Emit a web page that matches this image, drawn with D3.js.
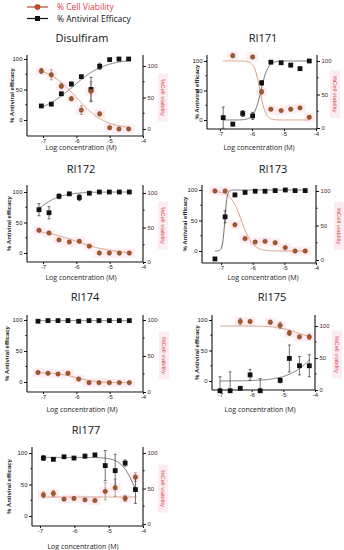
<!DOCTYPE html>
<html>
<head>
<meta charset="utf-8">
<script src="https://cdn.jsdelivr.net/npm/d3@7"></script>
<style>
  body { margin: 0; background: #fff; }
  svg { display: block; font-family: "Open Sans", "Liberation Sans", Arial, sans-serif; }
</style>
</head>
<body>
<svg width="344" height="550"></svg>
<script>
// ---- data ----
const compounds = ["Disulfiram", "RI171", "RI172", "RI173", "RI174", "RI175", "RI177"];

// log concentration (M) of each well, per compound
const logConc = [
  [-7.05, -6.75, -6.45, -6.15, -5.85, -5.56, -5.3, -5.0, -4.72, -4.43],
  [-6.9, -6.6, -6.29, -5.98, -5.7, -5.41, -5.09, -4.79, -4.5, -4.21],
  [-7.12, -6.82, -6.52, -6.21, -5.91, -5.61, -5.31, -5.01, -4.71, -4.41],
  [-7.19, -6.87, -6.56, -6.24, -5.92, -5.61, -5.29, -4.97, -4.66, -4.34],
  [-7.15, -6.85, -6.55, -6.25, -5.93, -5.62, -5.32, -5.01, -4.71, -4.41],
  [-7.0, -6.68, -6.36, -6.05, -5.73, -5.41, -5.1, -4.81, -4.49, -4.18],
  [-6.9, -6.61, -6.3, -6.01, -5.69, -5.4, -5.1, -4.81, -4.52, -4.22]
];

// % antiviral efficacy (mean, error)
const efficacy = [
  [23, 26, 43, 59, 71, 50, 88, 99, 100, 100],
  [4, -7, 11, 7, 63, 98, 97, 93, 87, 100],
  [71, 66, 93, 97, 91, 98, 100, 100, 100, 100],
  [-13, 56, 92, 96, 98, 98, 99, 100, 99, 99],
  [98, 99, 99, 99, 98, 99, 99, 99, 99, 99],
  [-16, -16, -12, 10, -16, null, 1, 37, 25, 25],
  [92, 90, 94, 92, 95, 97, 80, 72, 84, 42]
];
const efficacyErr = [
  [1, 1, 2, 3, 2, 20, 5, 1, 1, 1],
  [18, 3, 5, 6, 4, 2, 2, 3, 3, 1],
  [10, 10, 4, 2, 5, 1, 1, 1, 1, 1],
  [2, 10, 2, 1, 1, 1, 1, 1, 1, 1],
  [1, 1, 1, 1, 1, 1, 1, 1, 1, 1],
  [23, 31, 3, 9, 20, 0, 4, 22, 15, 18],
  [4, 2, 2, 2, 3, 2, 24, 26, 5, 22]
];

// % cell viability (mean, error)
const viability = [
  [92, 86, 68, 48, 30, 60, 24, 2, 0, 0],
  [null, 108, null, 106, 54, 28, 26, 28, 30, 16],
  [46, 42, 32, 29, 30, 23, 13, 13, 13, 13],
  [100, 100, 51, 31, 26, 27, 25, 18, 13, 13],
  [27, 26, 25, 26, 18, 13, 13, 13, 13, 13],
  [null, null, 107, 107, null, 106, 101, 89, 83, 83],
  [41, 43, 35, 36, 34, 33, 46, 51, 36, 66]
];
const viabilityErr = [
  [4, 8, 4, 3, 7, 15, 3, 1, 1, 1],
  [0, 3, 0, 2, 3, 1, 1, 1, 1, 1],
  [2, 1, 1, 1, 1, 1, 1, 1, 1, 1],
  [1, 1, 1, 1, 1, 1, 1, 1, 1, 1],
  [1, 1, 1, 1, 1, 1, 1, 1, 1, 1],
  [0, 0, 5, 2, 0, 3, 5, 4, 2, 4],
  [4, 4, 1, 1, 1, 1, 12, 12, 4, 6]
];

// fitted 4PL curves: [bottom, top, logEC50, hill, xFrom, xTo]
const efficacyFit = [
  [10, 100, -6.1, 0.9, -7.05, -4.43],
  [0, 100, -5.72, 4, -6.9, -4.21],
  [40, 100, -7.2, 1.2, -7.12, -4.41],
  [0, 100, -6.88, 12, -7.19, -4.34],
  [99, 99, -6, 1, -7.15, -4.41],
  [0, 100, -3.9, 1, -7.0, -4.18],
  [0, 93, -4.25, -2.2, -6.9, -4.18]
];
const viabilityFit = [
  [0, 100, -6.0, -1.0, -7.05, -4.43],
  [12, 100, -5.75, -5, -6.9, -4.21],
  [12, 48, -6.0, -0.8, -7.12, -4.41],
  [13, 100, -6.35, -2.5, -7.19, -4.34],
  [13, 27, -6.0, -1.5, -7.15, -4.41],
  [80, 100, -4.6, -1.5, -7.0, -4.18],
  [38, 38, -5, 1, -6.9, -4.18]
];

const xTicks = [-7, -6, -5, -4];
const yTicks = [0, 50, 100];
const yMinor = [25, 75];

// ---- panel placement (pixels) ----
const layout = [
  {tx: 82, ty: 38, x0: 27, x1: 143, xa: 43, xb: 143, top: 55, bottom: 136, L0: 120, L100: 59, R0: 129, R100: 66, lx: 12, rx: 163, labX: 81, labY: 147},
  {tx: 263, ty: 38, x0: 207, x1: 317, xa: 220, xb: 316, top: 55, bottom: 129, L0: 120, L100: 61, R0: 128, R100: 61, lx: 197, rx: 335, labX: 259, labY: 147},
  {tx: 81, ty: 169, x0: 27, x1: 143, xa: 43, xb: 143, top: 185, bottom: 262, L0: 253, L100: 192, R0: 262, R100: 193, lx: 9, rx: 163, labX: 81, labY: 277},
  {tx: 273, ty: 169, x0: 202, x1: 316, xa: 221, xb: 316, top: 185, bottom: 263, L0: 251, L100: 190, R0: 260, R100: 191, lx: 185, rx: 339, labX: 263, labY: 277},
  {tx: 85, ty: 297, x0: 27, x1: 143, xa: 43, xb: 143, top: 315, bottom: 392, L0: 382, L100: 320, R0: 392, R100: 320, lx: 7, rx: 164, labX: 82, labY: 409},
  {tx: 272, ty: 297, x0: 212, x1: 315, xa: 220, xb: 315, top: 315, bottom: 390, L0: 381, L100: 320, R0: 390, R100: 326, lx: 197, rx: 337, labX: 260, labY: 409},
  {tx: 86, ty: 430, x0: 32, x1: 143, xa: 40, xb: 143, top: 447, bottom: 526, L0: 516, L100: 453, R0: 524, R100: 453, lx: 9, rx: 163, labX: 83, labY: 546}
];

const brown = "#a9582a", brownDark = "#6e3515", curveBrown = "#d69a80";
const pink = "#fdedf2", redText = "#e5394a";

const svg = d3.select("svg");

function fourPL(p, x) {
  return p[0] + (p[1] - p[0]) / (1 + Math.pow(10, (p[2] - x) * p[3]));
}

// legend
const leg = svg.append("g");
leg.append("line").attr("x1", 27).attr("x2", 48).attr("y1", 7).attr("y2", 7)
  .attr("stroke", "#b94a3c").attr("stroke-width", 1.2);
leg.append("circle").attr("cx", 37.5).attr("cy", 7).attr("r", 2.6)
  .attr("fill", "#c2502e").attr("stroke", "#8a2f1a").attr("stroke-width", 0.6);
leg.append("text").attr("x", 57).attr("y", 10).attr("font-size", 8.5)
  .attr("fill", redText).text("% Cell Viability");
leg.append("line").attr("x1", 27).attr("x2", 48).attr("y1", 18.5).attr("y2", 18.5)
  .attr("stroke", "#111").attr("stroke-width", 1.2);
leg.append("rect").attr("x", 35).attr("y", 16).attr("width", 5).attr("height", 5).attr("fill", "#111");
leg.append("text").attr("x", 57).attr("y", 21.5).attr("font-size", 8.5)
  .attr("fill", "#111").text("% Antiviral Efficacy");

compounds.forEach((name, i) => {
  const L = layout[i];
  const g = svg.append("g");

  const x = d3.scaleLinear().domain([-7, -4]).range([L.xa, L.xb]);
  const yL = d3.scaleLinear().domain([0, 100]).range([L.L0, L.L100]);
  const yR = d3.scaleLinear().domain([0, 100]).range([L.R0, L.R100]);

  // title
  g.append("text").attr("x", L.tx).attr("y", L.ty + 4).attr("text-anchor", "middle")
    .attr("font-size", 11).attr("fill", "#111").text(name);

  // pale pink highlight behind the viability markers and right title
  const pts = logConc[i].map((c, k) => ({x: c, v: viability[i][k], ve: viabilityErr[i][k],
                                           e: efficacy[i][k], ee: efficacyErr[i][k]}));
  g.selectAll(".halo").data(pts.filter(d => d.v !== null)).enter().append("rect")
    .attr("x", d => x(d.x) - 5.5).attr("y", d => yR(d.v) - 4.5)
    .attr("width", 11).attr("height", 9).attr("fill", pink);

  // axes
  const axL = d3.axisLeft(yL).tickValues(yTicks).tickSize(3).tickPadding(1.5).tickSizeOuter(0);
  const axR = d3.axisRight(yR).tickValues(yTicks).tickSize(3).tickPadding(1.5).tickSizeOuter(0);
  const axB = d3.axisBottom(x).tickValues(xTicks).tickSize(2).tickPadding(1).tickSizeOuter(0).tickFormat(d => String(d));

  const gl = g.append("g").attr("transform", `translate(${L.x0},0)`).call(axL);
  const gr = g.append("g").attr("transform", `translate(${L.x1},0)`).call(axR);
  const gb = g.append("g").attr("transform", `translate(0,${L.bottom})`).call(axB);
  [gl, gr, gb].forEach(a => {
    a.select(".domain").remove();
    a.selectAll("text").attr("font-size", 6).attr("font-family", "Liberation Sans, Arial, sans-serif");
    a.selectAll("line").attr("stroke", "#111");
  });
  gr.selectAll("text").attr("fill", "#4a2a1a");
  gl.selectAll("text").attr("fill", "#222");
  gb.selectAll("text").attr("fill", "#222");

  // minor ticks
  g.selectAll(".mL").data(yMinor).enter().append("line")
    .attr("x1", L.x0 - 1.6).attr("x2", L.x0).attr("y1", d => yL(d)).attr("y2", d => yL(d)).attr("stroke", "#111");
  g.selectAll(".mR").data(yMinor).enter().append("line")
    .attr("x1", L.x1).attr("x2", L.x1 + 1.6).attr("y1", d => yR(d)).attr("y2", d => yR(d)).attr("stroke", "#111");

  // axis lines
  g.append("line").attr("x1", L.x0).attr("x2", L.x0).attr("y1", L.top).attr("y2", L.bottom).attr("stroke", "#111").attr("stroke-width", 1.1);
  g.append("line").attr("x1", L.x1).attr("x2", L.x1).attr("y1", L.top).attr("y2", L.bottom).attr("stroke", "#111").attr("stroke-width", 1.1);
  g.append("line").attr("x1", L.x0).attr("x2", L.x1).attr("y1", L.bottom).attr("y2", L.bottom).attr("stroke", "#111").attr("stroke-width", 1.1);

  // axis titles
  g.append("text").attr("x", L.labX).attr("y", L.labY + 3).attr("text-anchor", "middle")
    .attr("font-size", 7).attr("fill", "#222").text("Log concentration (M)");
  const midL = (L.top + L.bottom) / 2;
  g.append("text").attr("transform", `translate(${L.lx + 2},${midL}) rotate(-90)`)
    .attr("text-anchor", "middle").attr("font-size", 6).attr("font-weight", "bold")
    .attr("font-family", "Liberation Sans, Arial, sans-serif").attr("fill", "#222").text("% Antiviral efficacy");
  const midR = (L.top + L.bottom) / 2 + 2;
  g.append("rect").attr("x", L.rx - 5).attr("y", midR - 24).attr("width", 10).attr("height", 48).attr("fill", pink);
  g.append("text").attr("transform", `translate(${L.rx - 2},${midR}) rotate(90)`)
    .attr("text-anchor", "middle").attr("font-size", 6)
    .attr("font-family", "Liberation Sans, Arial, sans-serif").attr("fill", "#d8475c").text("%Cell viability");

  // fitted curves
  const ef = efficacyFit[i], vf = viabilityFit[i];
  const line = d3.line();
  const effCurve = d3.range(ef[4], ef[5] + 1e-9, (ef[5] - ef[4]) / 200).map(c => [x(c), yL(fourPL(ef, c))]);
  const vCurve = d3.range(vf[4], vf[5] + 1e-9, (vf[5] - vf[4]) / 200).map(c => [x(c), yR(fourPL(vf, c))]);
  g.append("path").attr("d", line(vCurve)).attr("fill", "none").attr("stroke", curveBrown).attr("stroke-width", 1);
  g.append("path").attr("d", line(effCurve)).attr("fill", "none").attr("stroke", "#6f6f6f").attr("stroke-width", 1);

  // error bars (clipped at the x axis, as in the figure)
  const eb = (sel, y, val, err, color) => {
    const d = pts.filter(p => p[val] !== null && p[err] > 1.5);
    sel.selectAll(null).data(d).enter().append("path")
      .attr("d", p => {
        const cx = x(p.x), a = y(p[val] + p[err]);
        const raw = y(p[val] - p[err]), b = Math.min(raw, L.bottom);
        let s = `M${cx},${a}V${b}M${cx - 1.5},${a}H${cx + 1.5}`;
        if (raw <= L.bottom) s += `M${cx - 1.5},${b}H${cx + 1.5}`;
        return s;
      })
      .attr("fill", "none").attr("stroke", color).attr("stroke-width", 0.7);
  };
  eb(g, yR, "v", "ve", "#9a7a6a");
  eb(g, yL, "e", "ee", "#333");

  // markers
  g.selectAll(".sq").data(pts.filter(d => d.e !== null)).enter().append("rect")
    .attr("x", d => x(d.x) - 2.4).attr("y", d => yL(d.e) - 2.4)
    .attr("width", 4.8).attr("height", 4.8).attr("fill", "#111");
  g.selectAll(".ci").data(pts.filter(d => d.v !== null)).enter().append("circle")
    .attr("cx", d => x(d.x)).attr("cy", d => yR(d.v)).attr("r", 2.2)
    .attr("fill", brown).attr("stroke", brownDark).attr("stroke-width", 0.5);
});
</script>
</body>
</html>
